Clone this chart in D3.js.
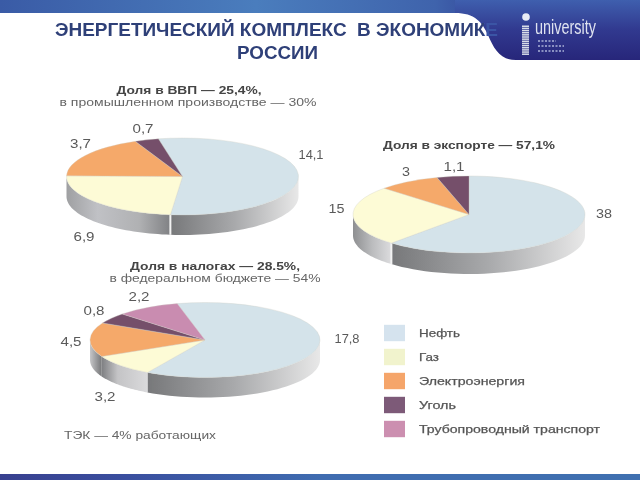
<!DOCTYPE html>
<html><head><meta charset="utf-8">
<script src="https://cdn.jsdelivr.net/npm/d3@7/dist/d3.min.js"></script>
<style>html,body{margin:0;padding:0;background:#fff}svg{display:block}text{font-family:"Liberation Sans",Arial,sans-serif}</style>
</head><body><svg id="c" width="640" height="480"></svg>
<script>
// Data
const categories = ["Нефть","Газ","Электроэнергия","Уголь","Трубопроводный транспорт"];
const colors = ["#d4e3ea","#fdfbd6","#f5a96a","#74506a","#c98cb0"];
const legendColors = ["#d5e3ee","#f1f3cd","#f5a56b","#7d5a78","#cc8fb0"];
const gdpValues = [14.1,6.9,3.7,0.7];
const exportValues = [38,15,3,1.1];
const taxValues = [17.8,3.2,4.5,0.8,2.2];
const gdpLabels = ["14,1","6,9","3,7","0,7"];
const exportLabels = ["38","15","3","1,1"];
const taxLabels = ["17,8","3,2","4,5","0,8","2,2"];
// The reference pies are not drawn to scale: these are slice sweeps in degrees.
const gdpSweeps = [198,85,65,12];
const exportSweeps = [222,91,31,16];
const taxSweeps = [224,34,53,17,32];

const W=640,H=480;
const svg=d3.select("#c");
const defs=svg.append("defs");
function grad(id,stops,x1=0,y1=0,x2=1,y2=0){
  const g=defs.append("linearGradient").attr("id",id).attr("x1",x1).attr("y1",y1).attr("x2",x2).attr("y2",y2);
  stops.forEach(s=>g.append("stop").attr("offset",s[0]).attr("stop-color",s[1]));
}
grad("band",[[0,"#3a5ba6"],[.4,"#4a7dbd"],[.68,"#3f63ac"],[.8,"#2f3a92"],[1,"#2b2f88"]]);
grad("corner",[[0,"#3f5fae"],[.5,"#31398f"],[1,"#27267a"]],0,0,0,1);
grad("foot",[[0,"#38408f"],[.2,"#3a4f9f"],[.5,"#3f6cb0"],[1,"#3f70b0"]]);
grad("sideOil",[[0,"#77787a"],[.5,"#a8a9ab"],[1,"#e8e8e8"]]);
grad("sideGasA",[[0,"#9fa0a2"],[.3,"#c0c1c5"],[.7,"#b0b1b3"],[1,"#808184"]]);
grad("sideGasB",[[0,"#8e8f91"],[.5,"#bbbcbe"],[1,"#dcdcde"]]);
grad("sideGasC",[[0,"#7e7f82"],[.35,"#c4c4c6"],[1,"#dadadc"]]);
grad("sideElec",[[0,"#c6c6c8"],[1,"#77787a"]]);
const tg=defs.append("linearGradient").attr("id","titleFill").attr("gradientUnits","userSpaceOnUse").attr("x1",0).attr("x2",W).attr("y1",0).attr("y2",0);
[[.757,"#2f3f78"],[.757,"#3b55a5"],[1,"#3b55a5"]].forEach(s=>tg.append("stop").attr("offset",s[0]).attr("stop-color",s[1]));
defs.append("filter").attr("id","soft").attr("x","-5%").attr("y","-5%").attr("width","110%").attr("height","110%")
  .append("feGaussianBlur").attr("stdDeviation",0.55);

// Header
svg.append("rect").attr("width",W).attr("height",13).attr("fill","url(#band)");
svg.append("path").attr("fill","url(#corner)")
  .attr("d","M455,0 L455,13 C475,13 482,22 488,35 C494,49 500,60 516,60 L640,60 L640,0 Z");
svg.append("rect").attr("y",474).attr("width",W).attr("height",6).attr("fill","url(#foot)");
const title=svg.append("g").attr("fill","url(#titleFill)").attr("font-weight","bold").attr("font-size",17.6).attr("filter","url(#soft)");
title.append("text").attr("x",55).attr("y",36).attr("textLength",443).attr("lengthAdjust","spacingAndGlyphs").attr("xml:space","preserve").text("ЭНЕРГЕТИЧЕСКИЙ КОМПЛЕКС  В ЭКОНОМИКЕ");
title.append("text").attr("x",277.5).attr("y",59).attr("text-anchor","middle").attr("textLength",81).attr("lengthAdjust","spacingAndGlyphs").text("РОССИИ");

// Logo
const logo=svg.append("g").attr("filter","url(#soft)");
logo.append("circle").attr("cx",526).attr("cy",17).attr("r",3.8).attr("fill","#e8ecf5");
logo.selectAll("rect.s").data(d3.range(14)).join("rect").attr("x",522).attr("width",7).attr("y",d=>25.5+d*2.15).attr("height",1.5).attr("fill","#d8dce8");
logo.append("text").attr("x",535).attr("y",34).attr("font-size",20).attr("fill","#dfe3f0").attr("textLength",61).attr("lengthAdjust","spacingAndGlyphs").text("university");
// The small print under the logo is illegible in the reference: drawn as faint dashes, not as invented words.
logo.selectAll("line.p").data([18,26,26]).join("line").attr("x1",538).attr("x2",d=>538+d)
  .attr("y1",(d,i)=>41+i*5).attr("y2",(d,i)=>41+i*5).attr("stroke","#aab2d8").attr("stroke-width",1.5).attr("stroke-dasharray","2 1.5");

// 3D pies
const pieGen=d3.pie().sort(null).value(d=>d);
const labelWidth=l=>({1:8,2:16,3:21,4:25})[l.length];
function drawPie(cfg){
  const g=svg.append("g").attr("filter","url(#soft)");
  const ys=cfg.ry/cfg.rx;
  const arcs=pieGen.startAngle(cfg.start*Math.PI/180).endAngle((cfg.start+360)*Math.PI/180)(cfg.sweeps);
  const px=a=>cfg.cx+cfg.rx*Math.sin(a), py=a=>cfg.cy-cfg.ry*Math.cos(a);
  const lo=Math.PI/2, hi=3*Math.PI/2;
  const side=d3.area().x(d=>px(d)).y0(d=>py(d)).y1(d=>py(d)+cfg.depth);
  arcs.forEach((a,i)=>{
    [[a.startAngle,a.endAngle],[a.startAngle-2*Math.PI,a.endAngle-2*Math.PI]].forEach(c=>{
      const s=Math.max(c[0],lo), e=Math.min(c[1],hi);
      if(e<=s) return;
      const n=d3.range(0,41).map(k=>s+(e-s)*k/40);
      g.append("path").attr("d",side(n)).attr("fill",`url(#${cfg.sides[i]})`);
      if(cfg.gap && i===1 && s>lo) g.append("rect").attr("x",px(s)-1).attr("y",py(s)).attr("width",2).attr("height",cfg.depth).attr("fill","#f2f2f2");
    });
  });
  const arc=d3.arc().innerRadius(0).outerRadius(cfg.rx);
  const top=g.append("g").attr("transform",`translate(${cfg.cx},${cfg.cy}) scale(1,${ys})`);
  top.selectAll("path").data(arcs).join("path").attr("d",arc).attr("fill",(d,i)=>colors[i])
    .attr("stroke","#cfcfc4").attr("stroke-width",0.5);
  const t=svg.append("g").attr("filter","url(#soft)").attr("fill","#5a5a5a").attr("font-size",12).attr("text-anchor","middle");
  cfg.labels.forEach((l,i)=>t.append("text").attr("x",cfg.labelAt[i][0]).attr("y",cfg.labelAt[i][1]+4).attr("textLength",labelWidth(l)).attr("lengthAdjust","spacingAndGlyphs").text(l));
  cfg.heads.forEach(h=>t.append("text").attr("x",h.x).attr("y",h.y+4).attr("font-size",11.5).attr("font-weight",h.bold?"bold":"normal")
    .attr("fill",h.bold?"#444":"#666").attr("textLength",h.w).attr("lengthAdjust","spacingAndGlyphs").text(h.t));
}
drawPie({cx:182.5,cy:176.5,rx:116,ry:38.5,depth:20,start:-12,sweeps:gdpSweeps,labels:gdpLabels,gap:true,
  sides:["sideOil","sideGasA","sideElec","sideElec"],
  labelAt:[[311,155],[84,236.5],[80.5,144],[143,129]],
  heads:[{t:"Доля в ВВП — 25,4%,",x:189,y:90,w:145,bold:true},{t:"в промышленном производстве — 30%",x:188,y:102,w:257}]});
drawPie({cx:469,cy:214.5,rx:116,ry:38.5,depth:21,start:0,sweeps:exportSweeps,labels:exportLabels,gap:true,
  sides:["sideOil","sideGasB","sideElec","sideElec"],
  labelAt:[[604,214],[336.5,209],[406,172],[454,167]],
  heads:[{t:"Доля в экспорте — 57,1%",x:469,y:145,w:172,bold:true}]});
drawPie({cx:205,cy:340,rx:115,ry:37.5,depth:20,start:-14,sweeps:taxSweeps,labels:taxLabels,gap:false,
  sides:["sideOil","sideGasC","sideElec","sideElec","sideElec"],
  labelAt:[[347,339],[105,397],[71,342],[94,311],[139,297]],
  heads:[{t:"Доля в налогах — 28.5%,",x:215,y:266,w:170,bold:true},{t:"в федеральном бюджете — 54%",x:215,y:278,w:211}]});

// Legend
const legend=svg.append("g").attr("filter","url(#soft)");
const ly=d3.scaleBand().domain(categories).range([321,441]);
const lg=legend.selectAll("g").data(categories).join("g").attr("transform",d=>`translate(384,${ly(d)+ly.bandwidth()/2})`);
lg.append("rect").attr("y",-8.2).attr("width",21).attr("height",16.4).attr("fill",(d,i)=>legendColors[i]);
const legendWidths=[41,20,106,37,181];
lg.append("text").attr("x",35).attr("y",4).attr("font-size",11).attr("fill","#555").attr("stroke","#555").attr("stroke-width",0.25)
  .attr("textLength",(d,i)=>legendWidths[i]).attr("lengthAdjust","spacingAndGlyphs").text(d=>d);
legend.append("text").attr("x",64).attr("y",439).attr("font-size",11).attr("fill","#666").attr("textLength",152).attr("lengthAdjust","spacingAndGlyphs").text("ТЭК — 4% работающих");
</script></body></html>
